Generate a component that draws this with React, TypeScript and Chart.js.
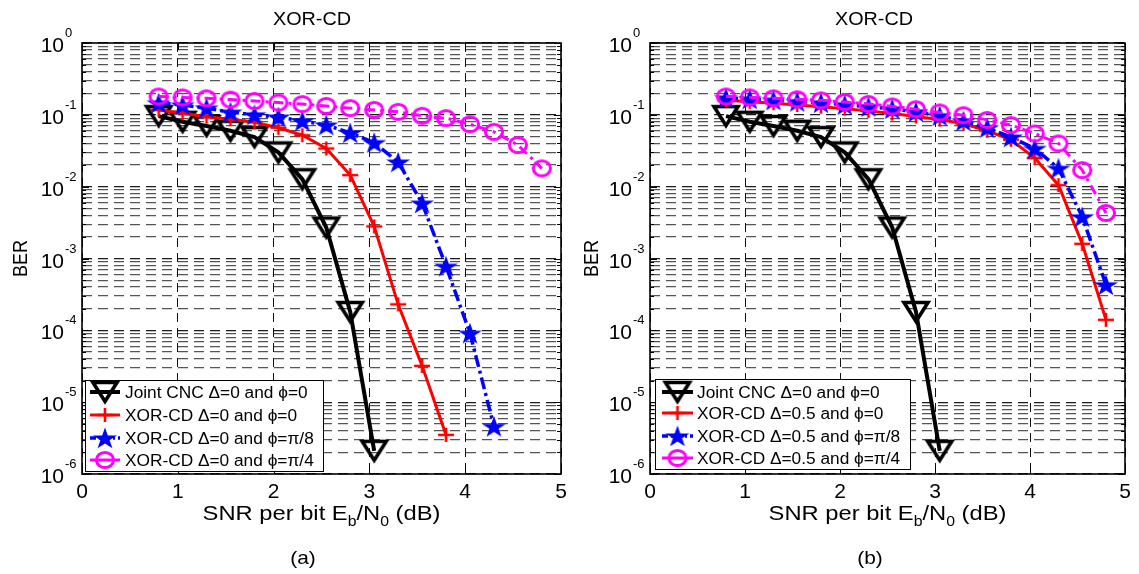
import { useEffect, useRef } from 'react';
import { Chart, registerables } from 'chart.js';

Chart.register(...registerables);

// ---------------- data ----------------
const snrJoint = [0.8, 1.05, 1.3, 1.55, 1.8, 2.05, 2.3, 2.55, 2.8, 3.05];
const berJoint = [0.096, 0.08, 0.07, 0.06, 0.049, 0.03, 0.0127, 0.0027, 1.8e-4, 2.1e-6];

const snrA0 = [0.8, 1.05, 1.3, 1.55, 1.8, 2.05, 2.3, 2.55, 2.8, 3.05, 3.3, 3.55, 3.8];
const berA0 = [0.117, 0.105, 0.094, 0.087, 0.079, 0.066, 0.052, 0.034, 0.0145, 0.0028, 2.3e-4, 3.2e-5, 3.5e-6];

const snrA8 = [0.8, 1.05, 1.3, 1.55, 1.8, 2.05, 2.3, 2.55, 2.8, 3.05, 3.3, 3.55, 3.8, 4.05, 4.3];
const berA8 = [0.146, 0.137, 0.124, 0.109, 0.1, 0.093, 0.082, 0.072, 0.056, 0.041, 0.022, 0.0059, 7.8e-4, 9.1e-5, 4.6e-6];

const snrA4 = [0.8, 1.05, 1.3, 1.55, 1.8, 2.05, 2.3, 2.55, 2.8, 3.05, 3.3, 3.55, 3.8, 4.05, 4.3, 4.55, 4.8];
const berA4 = [0.18, 0.175, 0.17, 0.163, 0.156, 0.148, 0.141, 0.133, 0.124, 0.117, 0.11, 0.097, 0.09, 0.074, 0.058, 0.038, 0.018];

const snrB = [0.8, 1.05, 1.3, 1.55, 1.8, 2.05, 2.3, 2.55, 2.8, 3.05, 3.3, 3.55, 3.8, 4.05, 4.3, 4.55, 4.8];
const berB0 = [0.16, 0.152, 0.145, 0.137, 0.13, 0.122, 0.113, 0.104, 0.095, 0.086, 0.075, 0.06, 0.045, 0.025, 0.0105, 0.0016, 1.4e-4];
const berB8 = [0.172, 0.166, 0.16, 0.153, 0.147, 0.138, 0.13, 0.121, 0.11, 0.097, 0.082, 0.066, 0.049, 0.034, 0.018, 0.0038, 4.3e-4];
const berB4 = [0.18, 0.175, 0.17, 0.165, 0.159, 0.151, 0.142, 0.131, 0.12, 0.108, 0.099, 0.085, 0.072, 0.055, 0.04, 0.017, 0.0043];

const xTicks = [0, 1, 2, 3, 4, 5];
const yExponents = [0, -1, -2, -3, -4, -5, -6];
const yMinorMultipliers = [2, 3, 4, 5, 6, 7, 8, 9];

const legendA = ['Joint CNC \u0394=0 and \u03D5=0', 'XOR-CD \u0394=0 and \u03D5=0', 'XOR-CD \u0394=0 and \u03D5=\u03C0/8', 'XOR-CD \u0394=0 and \u03D5=\u03C0/4'];
const legendB = ['Joint CNC \u0394=0 and \u03D5=0', 'XOR-CD \u0394=0.5 and \u03D5=0', 'XOR-CD \u0394=0.5 and \u03D5=\u03C0/8', 'XOR-CD \u0394=0.5 and \u03D5=\u03C0/4'];
const titleText = 'XOR-CD';
const yTitle = 'BER';

// ---------------- styling helpers ----------------
const FONT = '"Liberation Sans", Arial, Helvetica, sans-serif';

type Kind = 'tri' | 'plus' | 'star' | 'circ';

const markerCache: Record<string, HTMLCanvasElement> = {};
function marker(kind: Kind): HTMLCanvasElement {
  if (markerCache[kind]) return markerCache[kind];
  const c = document.createElement('canvas');
  const g = c.getContext('2d')!;
  if (kind === 'tri') {
    c.width = 32; c.height = 28;
    g.strokeStyle = '#000'; g.lineWidth = 3.6; g.lineJoin = 'miter';
    g.beginPath(); g.moveTo(4, 4.5); g.lineTo(28, 4.5); g.lineTo(16, 23.5); g.closePath(); g.stroke();
  } else if (kind === 'plus') {
    c.width = 20; c.height = 18;
    g.strokeStyle = '#ff0000'; g.lineWidth = 2.6;
    g.beginPath(); g.moveTo(2, 9); g.lineTo(18, 9); g.moveTo(10, 2); g.lineTo(10, 16); g.stroke();
  } else if (kind === 'star') {
    c.width = 28; c.height = 26;
    const cx = 14, cy = 14, R = 11.5, r = R * 0.382;
    g.fillStyle = '#0000ff';
    g.beginPath();
    for (let i = 0; i < 10; i++) {
      const ang = -Math.PI / 2 + (i * Math.PI) / 5;
      const rr = i % 2 ? r : R;
      const px = cx + rr * Math.cos(ang) * 1.1;
      const py = cy + rr * Math.sin(ang);
      if (i === 0) g.moveTo(px, py); else g.lineTo(px, py);
    }
    g.closePath(); g.fill();
  } else {
    c.width = 24; c.height = 22;
    g.strokeStyle = '#ff00ff'; g.lineWidth = 3;
    g.beginPath(); g.ellipse(12, 11, 8.6, 7.6, 0, 0, Math.PI * 2); g.stroke();
  }
  markerCache[kind] = c;
  return c;
}

const kindStyle: Record<Kind, { color: string; width: number; dash: number[]; order: number }> = {
  tri: { color: '#000000', width: 4, dash: [], order: 3 },
  plus: { color: '#ff0000', width: 3, dash: [], order: 2 },
  star: { color: '#0000ff', width: 3.5, dash: [12, 4, 3, 4], order: 1 },
  circ: { color: '#ff00ff', width: 3, dash: [10, 5, 3, 5], order: 0 },
};

function isDecade(v: number) {
  const l = Math.log10(v);
  return Math.abs(l - Math.round(l)) < 1e-9;
}

function yGridValues(): number[] {
  const out: number[] = [];
  for (const e of yExponents) {
    out.push(Math.pow(10, e));
    if (e < 0) for (const m of yMinorMultipliers) out.push(m * Math.pow(10, e));
  }
  return out.sort((a, b) => a - b);
}

function txt(ctx: CanvasRenderingContext2D, s: string, x: number, y: number, size: number, align: CanvasTextAlign = 'left', sx = 1) {
  ctx.save();
  ctx.font = `${size}px ${FONT}`;
  ctx.textAlign = align;
  ctx.textBaseline = 'alphabetic';
  ctx.translate(x, y);
  ctx.scale(sx, 1);
  ctx.fillText(s, 0, 0);
  ctx.restore();
}

type Series = { label: string; x: number[]; y: number[]; kind: Kind };
type PanelCfg = {
  width: number;
  plotLeft: number;
  padRight: number;
  titleX: number;
  labelX: number;
  panelLabel: string;
  berX: number;
  legend: { x0: number; x1: number; y0: number; y1: number; lineX0: number; lineX1: number; textX: number; rows: number[] };
  series: Series[];
};

function decorPlugin(cfg: PanelCfg) {
  return {
    id: 'decor',
    afterDraw(chart: any) {
      const ctx: CanvasRenderingContext2D = chart.ctx;
      const a = chart.chartArea;
      const xs = chart.scales.x;
      const ys = chart.scales.y;
      ctx.save();
      ctx.setLineDash([]);
      // inner tick marks
      ctx.strokeStyle = '#000';
      ctx.lineWidth = 1;
      ctx.beginPath();
      for (const v of yGridValues()) {
        const y = Math.round(ys.getPixelForValue(v)) + 0.5;
        const L = isDecade(v) ? 7 : 4;
        ctx.moveTo(a.left, y); ctx.lineTo(a.left + L, y);
        ctx.moveTo(a.right, y); ctx.lineTo(a.right - L, y);
      }
      for (const t of xTicks) {
        const x = Math.round(xs.getPixelForValue(t)) + 0.5;
        ctx.moveTo(x, a.bottom); ctx.lineTo(x, a.bottom - 7);
        ctx.moveTo(x, a.top); ctx.lineTo(x, a.top + 7);
      }
      ctx.stroke();
      // box
      ctx.lineWidth = 1.6;
      ctx.strokeRect(a.left, a.top, a.right - a.left, a.bottom - a.top);

      ctx.fillStyle = '#000';
      // x tick labels
      for (const t of xTicks) txt(ctx, String(t), xs.getPixelForValue(t), a.bottom + 24, 21, 'center');
      // y tick labels with superscripts
      for (const e of yExponents) {
        const y = ys.getPixelForValue(Math.pow(10, e));
        txt(ctx, '10', a.left - 18, y + 9, 21, 'right');
        txt(ctx, String(e), a.left - 17, y - 6, 13, 'left');
      }
      // x axis title with subscripts
      const sx = 1.13;
      const parts = [
        { t: 'SNR per bit E', s: 21, dy: 0 },
        { t: 'b', s: 14, dy: 6 },
        { t: '/N', s: 21, dy: 0 },
        { t: '0', s: 14, dy: 6 },
        { t: ' (dB)', s: 21, dy: 0 },
      ];
      let w = 0;
      for (const p of parts) { ctx.font = `${p.s}px ${FONT}`; w += ctx.measureText(p.t).width * sx; }
      let cx = (a.left + a.right) / 2 - w / 2;
      for (const p of parts) {
        txt(ctx, p.t, cx, 520 + p.dy, p.s, 'left', sx);
        ctx.font = `${p.s}px ${FONT}`;
        cx += ctx.measureText(p.t).width * sx;
      }
      // y axis title
      ctx.save();
      ctx.translate(cfg.berX, (a.top + a.bottom) / 2);
      ctx.rotate(-Math.PI / 2);
      ctx.scale(1, 1.12);
      ctx.font = `18px ${FONT}`;
      ctx.textAlign = 'center';
      ctx.textBaseline = 'middle';
      ctx.fillText(yTitle, 0, 0);
      ctx.restore();
      // title
      txt(ctx, titleText, cfg.titleX, 25, 18, 'center', 1.1);
      // panel label
      txt(ctx, cfg.panelLabel, cfg.labelX, 564, 19, 'center', 1.1);

      // legend
      const L = cfg.legend;
      ctx.fillStyle = '#fff';
      ctx.fillRect(L.x0, L.y0, L.x1 - L.x0, L.y1 - L.y0);
      ctx.strokeStyle = '#000';
      ctx.lineWidth = 1;
      ctx.strokeRect(L.x0 + 0.5, L.y0 + 0.5, L.x1 - L.x0, L.y1 - L.y0);
      cfg.series.forEach((s, i) => {
        const st = kindStyle[s.kind];
        const y = L.rows[i];
        ctx.save();
        ctx.strokeStyle = st.color;
        ctx.lineWidth = st.width;
        ctx.setLineDash(s.kind === 'star' ? [6, 3, 2, 3] : []);
        ctx.beginPath(); ctx.moveTo(L.lineX0, y); ctx.lineTo(L.lineX1, y); ctx.stroke();
        ctx.restore();
        const m = marker(s.kind);
        ctx.drawImage(m, (L.lineX0 + L.lineX1) / 2 - m.width / 2, y - m.height / 2);
        ctx.fillStyle = '#000';
        txt(ctx, s.label, L.textX, y + 6, 16, 'left', 1.08);
      });
      ctx.restore();
    },
  };
}

function Panel({ cfg, left }: { cfg: PanelCfg; left: number }) {
  const ref = useRef<HTMLCanvasElement>(null);
  useEffect(() => {
    if (!ref.current) return;
    const datasets = cfg.series.map((s) => {
      const st = kindStyle[s.kind];
      return {
        label: s.label,
        data: s.x.map((x, i) => ({ x, y: s.y[i] })),
        borderColor: st.color,
        backgroundColor: st.color,
        borderWidth: st.width,
        borderDash: st.dash,
        pointStyle: marker(s.kind),
        pointRadius: 10,
        fill: false,
        tension: 0,
        order: st.order,
      };
    });
    const chart = new Chart(ref.current, {
      type: 'line',
      data: { datasets } as any,
      options: {
        animation: false,
        responsive: false,
        maintainAspectRatio: false,
        events: [],
        layout: { padding: { left: 0, right: cfg.padRight, top: 43, bottom: 0 } },
        plugins: { legend: { display: false }, title: { display: false }, tooltip: { enabled: false } },
        scales: {
          x: {
            type: 'linear',
            min: 0,
            max: 5,
            ticks: { display: false, stepSize: 1 },
            grid: { color: '#111', lineWidth: 1, drawTicks: false },
            border: { display: false, dash: [9, 6] },
            afterBuildTicks: (s: any) => { s.ticks = xTicks.map((v) => ({ value: v })); },
            afterFit: (s: any) => { s.height = 100; },
          },
          y: {
            type: 'logarithmic',
            min: 1e-6,
            max: 1,
            ticks: { display: false },
            grid: {
              color: (c: any) => (c.tick && isDecade(c.tick.value) ? '#1a1a1a' : '#555'),
              lineWidth: 1.2,
              drawTicks: false,
            },
            border: { display: false, dash: [10, 6] },
            afterBuildTicks: (s: any) => { s.ticks = yGridValues().map((v) => ({ value: v })); },
            afterFit: (s: any) => { s.width = cfg.plotLeft; },
          },
        },
      } as any,
      plugins: [decorPlugin(cfg) as any],
    });
    return () => chart.destroy();
  }, [cfg]);
  return (
    <canvas
      ref={ref}
      width={cfg.width}
      height={574}
      style={{ position: 'absolute', left, top: 0, width: cfg.width, height: 574 }}
    />
  );
}

const panelA: PanelCfg = {
  width: 575,
  plotLeft: 82,
  padRight: 13,
  titleX: 312,
  labelX: 303,
  panelLabel: '(a)',
  berX: 21,
  legend: { x0: 85, x1: 323, y0: 380, y1: 471, lineX0: 90, lineX1: 120, textX: 125, rows: [392, 415, 438, 460] },
  series: [
    { label: legendA[0], x: snrJoint, y: berJoint, kind: 'tri' },
    { label: legendA[1], x: snrA0, y: berA0, kind: 'plus' },
    { label: legendA[2], x: snrA8, y: berA8, kind: 'star' },
    { label: legendA[3], x: snrA4, y: berA4, kind: 'circ' },
  ],
};

const panelB: PanelCfg = {
  width: 564,
  plotLeft: 75,
  padRight: 9,
  titleX: 299,
  labelX: 295,
  panelLabel: '(b)',
  berX: 17,
  legend: { x0: 80, x1: 335, y0: 379, y1: 469, lineX0: 87, lineX1: 118, textX: 122, rows: [392, 413, 436, 458] },
  series: [
    { label: legendB[0], x: snrJoint, y: berJoint, kind: 'tri' },
    { label: legendB[1], x: snrB, y: berB0, kind: 'plus' },
    { label: legendB[2], x: snrB, y: berB8, kind: 'star' },
    { label: legendB[3], x: snrB, y: berB4, kind: 'circ' },
  ],
};

export default function App() {
  return (
    <div style={{ position: 'fixed', left: 0, top: 0, width: 1139, height: 574, background: '#fff' }}>
      <Panel cfg={panelA} left={0} />
      <Panel cfg={panelB} left={575} />
    </div>
  );
}
